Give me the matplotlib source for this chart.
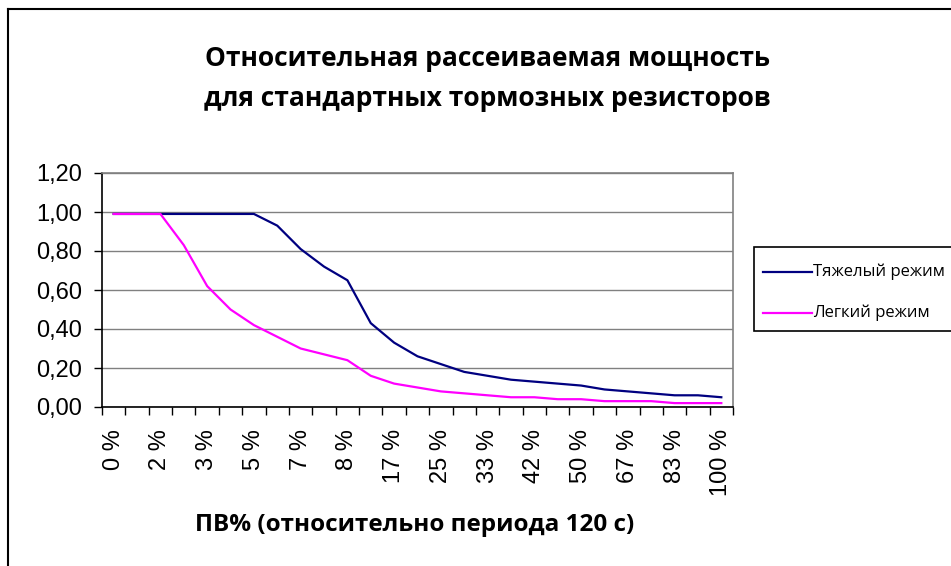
import numpy as np
import matplotlib

matplotlib.use("Agg")
import matplotlib.pyplot as plt
from matplotlib.lines import Line2D
from matplotlib.patches import Rectangle

# Values (27 categories, every other one labelled)
heavy = [0.99, 0.99, 0.99, 0.99, 0.99, 0.99, 0.99, 0.93, 0.81, 0.72, 0.65,
         0.43, 0.33, 0.26, 0.22, 0.18, 0.16, 0.14, 0.13, 0.12, 0.11, 0.09,
         0.08, 0.07, 0.06, 0.06, 0.05]
light = [0.99, 0.99, 0.99, 0.83, 0.62, 0.50, 0.42, 0.36, 0.30, 0.27, 0.24,
         0.16, 0.12, 0.10, 0.08, 0.07, 0.06, 0.05, 0.05, 0.04, 0.04, 0.03,
         0.03, 0.03, 0.02, 0.02, 0.02]
shown_labels = ["0 %", "2 %", "3 %", "5 %", "7 %", "8 %", "17 %", "25 %",
                "33 %", "42 %", "50 %", "67 %", "83 %", "100 %"]
series_names = ["Тяжелый режим", "Легкий режим"]
series_colors = ["#000080", "#FF00FF"]
y_ticks = [0.0, 0.2, 0.4, 0.6, 0.8, 1.0, 1.2]

TITLE_FONT = ["Open Sans", "DejaVu Sans"]
AXIS_FONT = ["Liberation Sans", "DejaVu Sans"]
W, H = 951, 566


def fx(px):
    return px / W


def fy(py):
    return 1 - py / H


fig = plt.figure(figsize=(W / 100, H / 100), dpi=100)
ax = fig.add_axes([fx(102), fy(407), 631 / W, 234 / H])

x = np.arange(len(heavy))
for vals, name, col in zip([heavy, light], series_names, series_colors):
    ax.plot(x, vals, color=col, lw=1.6, label=name, zorder=3)

ax.set_xlim(-0.5, len(heavy) - 0.5)
ax.set_ylim(0, 1.2)

# y axis
ax.set_yticks(y_ticks)
ax.set_yticklabels([f"{v:.2f}".replace(".", ",") for v in y_ticks],
                   family=AXIS_FONT, fontsize=17)
ax.yaxis.grid(True, color="#808080", lw=1)
ax.set_axisbelow(True)

# x axis: ticks on category boundaries, labels on every second category
ax.set_xticks(np.arange(len(heavy) + 1) - 0.5)
ax.set_xticklabels([])
ax.set_xticks(x[::2], minor=True)
ax.set_xticklabels(shown_labels, minor=True, rotation=90, va="top",
                   ha="center", family=AXIS_FONT, fontsize=17)
ax.tick_params(axis="x", which="minor", length=0, pad=16)
ax.tick_params(axis="x", which="major", length=6, width=1, direction="out")
ax.tick_params(axis="y", length=6, width=1, direction="out", pad=8.5)

for side in ["top", "right"]:
    ax.spines[side].set_color("#808080")
    ax.spines[side].set_linewidth(1.2)
for side in ["left", "bottom"]:
    ax.spines[side].set_color("black")
    ax.spines[side].set_linewidth(1.2)

fig.text(fx(487), fy(58), "Относительная рассеиваемая мощность",
         ha="center", va="center", family=TITLE_FONT, fontweight="bold",
         fontsize=19)
fig.text(fx(487), fy(98), "для стандартных тормозных резисторов",
         ha="center", va="center", family=TITLE_FONT, fontweight="bold",
         fontsize=19)
fig.text(fx(415), fy(525), "ПВ% (относительно периода 120 с)",
         ha="center", va="center", family=TITLE_FONT, fontweight="bold",
         fontsize=17.5)

# legend box (runs off the right edge like the original)
fig.add_artist(Rectangle((fx(754), fy(331)), 220 / W, 84 / H,
                         transform=fig.transFigure, facecolor="white",
                         edgecolor="black", lw=1.2))
for i, (name, col) in enumerate(zip(series_names, series_colors)):
    yy = fy(272 + 41 * i)
    fig.add_artist(Line2D([fx(763), fx(812)], [yy, yy], color=col, lw=1.6,
                          transform=fig.transFigure))
    fig.text(fx(813), yy, name, ha="left", va="center", family=TITLE_FONT,
             fontsize=12)

# outer chart frame (only top and left edges are visible)
fig.add_artist(Line2D([fx(8), 1], [fy(9)] * 2, color="black",
                      lw=1.5, transform=fig.transFigure))
fig.add_artist(Line2D([fx(8)] * 2, [0, fy(9)], color="black",
                      lw=1.5, transform=fig.transFigure))

fig.savefig("out.png", dpi=100, facecolor="white")
